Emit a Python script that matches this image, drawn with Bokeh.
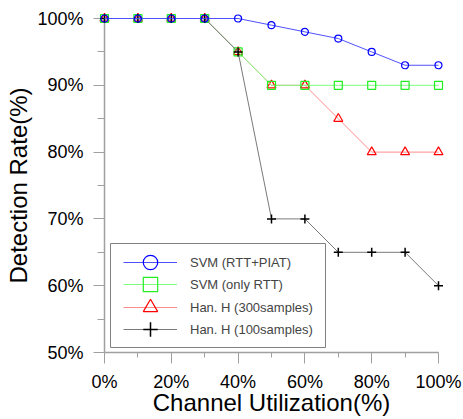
from bokeh.plotting import figure
from bokeh.models import Range1d, SingleIntervalTicker, Legend, LegendItem, BoxAnnotation
from bokeh.embed import file_html
from bokeh.resources import INLINE

# ---- data ----
utilization = [0, 10, 20, 30, 40, 50, 60, 70, 80, 90, 100]
svm_rtt_piat = [100, 100, 100, 100, 100, 99, 98, 97, 95, 93, 93]
svm_only_rtt = [100, 100, 100, 100, 95, 90, 90, 90, 90, 90, 90]
han_300 = [100, 100, 100, 100, 95, 90, 90, 85, 80, 80, 80]
han_100 = [100, 100, 100, 100, 95, 70, 70, 65, 65, 65, 60]

series_names = ["SVM (RTT+PIAT)", "SVM (only RTT)", "Han. H (300samples)", "Han. H (100samples)"]

x_ticks = [0, 20, 40, 60, 80, 100]
x_tick_labels = ["0%", "20%", "40%", "60%", "80%", "100%"]
y_ticks = [50, 60, 70, 80, 90, 100]
y_tick_labels = ["50%", "60%", "70%", "80%", "90%", "100%"]

FONT = "Liberation Sans"

p = figure(width=463, height=419, output_backend="svg", toolbar_location=None,
           x_range=Range1d(0, 100), y_range=Range1d(50, 100),
           min_border_left=104, min_border_right=25, min_border_top=18, min_border_bottom=67)
p.outline_line_color = None
p.xgrid.visible = False
p.ygrid.visible = False
p.background_fill_color = "white"
p.border_fill_color = "white"

axis_col = "#a0a0a0"
for ax in (p.xaxis[0], p.yaxis[0]):
    ax.axis_line_color = axis_col
    ax.axis_line_width = 1.5
    ax.major_tick_line_color = axis_col
    ax.minor_tick_line_color = axis_col
    ax.major_tick_line_width = 1
    ax.minor_tick_line_width = 1
    ax.major_tick_in = 0
    ax.minor_tick_in = 0
    ax.major_label_text_font = FONT
    ax.major_label_text_font_size = "18px"
    ax.major_label_text_color = "black"
    ax.axis_label_text_font = FONT
    ax.axis_label_text_font_size = "24px"
    ax.axis_label_text_font_style = "normal"
    ax.axis_label_text_color = "black"

xa = p.xaxis[0]
xa.ticker = SingleIntervalTicker(interval=20, num_minor_ticks=2)
xa.major_label_overrides = dict(zip(x_ticks, x_tick_labels))
xa.major_tick_out = 11
xa.minor_tick_out = 5
xa.major_label_standoff = 8
xa.axis_label = "Channel Utilization(%)"
xa.axis_label_standoff = -6

ya = p.yaxis[0]
ya.ticker = SingleIntervalTicker(interval=10, num_minor_ticks=2)
ya.major_label_overrides = dict(zip(y_ticks, y_tick_labels))
ya.major_tick_out = 11
ya.minor_tick_out = 7
ya.major_label_standoff = 10
ya.axis_label = "Detection Rate(%)"
ya.axis_label_standoff = 2

lvl = "overlay"
# red triangles
r_line = p.line(utilization, han_300, line_color="#ff8c8c", line_width=1, level=lvl)
r_mk = p.scatter(utilization, han_300, marker="triangle", size=9, fill_color=None,
                 line_color="#ff0000", line_width=1.2, level=lvl)
# green squares
g_line = p.line(utilization, svm_only_rtt, line_color="#7dff7d", line_width=1, level=lvl)
g_mk = p.scatter(utilization, svm_only_rtt, marker="square", size=8, fill_color=None,
                 line_color="#22ee22", line_width=1.2, level=lvl)
# black plus
k_line = p.line(utilization, han_100, line_color="#7a7a7a", line_width=1, level=lvl)
k_mk = p.scatter(utilization, han_100, marker="cross", size=9, line_color="#000000",
                 line_width=1.5, level=lvl)
# blue circles
b_line = p.line(utilization, svm_rtt_piat, line_color="#5050ff", line_width=1, level=lvl)
b_mk = p.scatter(utilization, svm_rtt_piat, marker="circle", size=7, fill_color=None,
                 line_color="#0000ff", line_width=1.2, level=lvl)

# legend frame (screen units, relative to the frame's bottom-left corner)
box = BoxAnnotation(left=6, right=221, top=109, bottom=5,
                    left_units="screen", right_units="screen",
                    top_units="screen", bottom_units="screen",
                    fill_color="white", fill_alpha=1,
                    line_color="#808080", line_width=1, line_alpha=1)
p.add_layout(box)

entries = [(series_names[0], [b_line, b_mk]),
           (series_names[1], [g_line, g_mk]),
           (series_names[2], [r_line, r_mk]),
           (series_names[3], [k_line, k_mk])]
row_offsets = [72, 50, 27, 5]  # screen px from frame bottom to each row's box bottom
for (name, rends), yoff in zip(entries, row_offsets):
    lg = Legend(items=[LegendItem(label=name, renderers=rends)], location=(19, yoff))
    lg.glyph_width = 54
    lg.glyph_height = 36
    lg.padding = 0
    lg.margin = 0
    lg.spacing = 0
    lg.label_standoff = 13
    lg.label_text_font = FONT
    lg.label_text_font_size = "13px"
    lg.border_line_color = None
    lg.background_fill_alpha = 0
    p.add_layout(lg, "center")

open("out.html", "w").write(file_html(p, INLINE))
